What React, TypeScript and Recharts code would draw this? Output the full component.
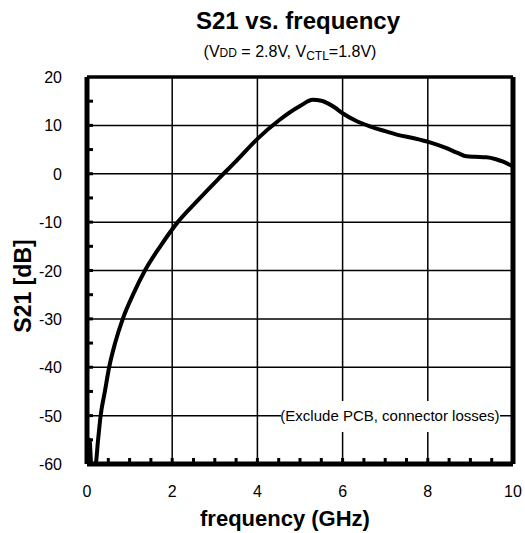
import React from 'react';
import { LineChart, Line, XAxis, YAxis, ReferenceLine } from 'recharts';

const freqGHz = [0.02, 0.06, 0.1, 0.2, 0.26, 0.32, 0.42, 0.52, 0.66, 0.84, 1.08, 1.36, 1.72, 2.13, 2.6, 3.07, 3.5, 4.0, 4.5, 5.0, 5.3, 5.5, 5.8, 6.0, 6.3, 6.64, 7.0, 7.27, 7.7, 8.05, 8.44, 8.7, 8.91, 9.1, 9.38, 9.6, 9.77, 10.0];
const s21dB = [-60, -55, -60, -60, -55, -50, -45, -40, -35, -30, -25, -20, -15, -10, -5.5, -1.2, 2.6, 7.2, 11.0, 14.0, 15.3, 15.1, 13.8, 12.5, 11.0, 9.8, 8.8, 8.1, 7.3, 6.5, 5.3, 4.3, 3.6, 3.5, 3.4, 3.0, 2.5, 1.5];

const xTicks = [0, 0.5, 1, 1.5, 2, 2.5, 3, 3.5, 4, 4.5, 5, 5.5, 6, 6.5, 7, 7.5, 8, 8.5, 9, 9.5, 10];
const yTicks = [-60, -55, -50, -45, -40, -35, -30, -25, -20, -15, -10, -5, 0, 5, 10, 15, 20];
const xMajor = [0, 2, 4, 6, 8, 10];
const yMajor = [-60, -50, -40, -30, -20, -10, 0, 10, 20];

const data = freqGHz.map((f, i) => ({ f, s21: s21dB[i] }));

const FONT = '"Liberation Sans", Arial, sans-serif';

const XTick = (props: any) => {
  const { x, y, payload } = props;
  const v = payload.value;
  return (
    <g>
      {v > 0 && v < 10 && <line x1={x} y1={y} x2={x} y2={y - 6} stroke="#000" strokeWidth={3} />}
      {xMajor.includes(v) && (
        <text x={x} y={y + 33} textAnchor="middle" fontFamily={FONT} fontSize={16} fill="#000">
          {v}
        </text>
      )}
    </g>
  );
};

const YTick = (props: any) => {
  const { x, y, payload } = props;
  const v = payload.value;
  return (
    <g>
      {v > -60 && v < 20 && <line x1={x} y1={y} x2={x + 6} y2={y} stroke="#000" strokeWidth={3} />}
      {yMajor.includes(v) && (
        <text x={x - 25} y={y + 6} textAnchor="end" fontFamily={FONT} fontSize={16} fill="#000">
          {v}
        </text>
      )}
    </g>
  );
};

export default function App() {
  return (
    <div style={{ position: 'absolute', left: 0, top: 0, width: 525, height: 533, background: '#fff', fontFamily: FONT }}>
      <LineChart width={525} height={533} data={data} margin={{ top: 77, right: 12, bottom: 0, left: 0 }}>
        {xMajor.slice(1, -1).map((v) => (
          <ReferenceLine key={'gx' + v} x={v} stroke="#000" strokeWidth={1.5} ifOverflow="visible" />
        ))}
        {yMajor.slice(1, -1).map((v) => (
          <ReferenceLine key={'gy' + v} y={v} stroke="#000" strokeWidth={1.5} ifOverflow="visible" />
        ))}
        <XAxis
          dataKey="f"
          type="number"
          domain={[0, 10]}
          ticks={xTicks}
          interval={0}
          height={69}
          tickSize={0}
          tickMargin={0}
          tickLine={false}
          axisLine={{ stroke: '#000', strokeWidth: 5 }}
          tick={<XTick />}
        />
        <YAxis
          type="number"
          domain={[-60, 20]}
          ticks={yTicks}
          interval={0}
          width={87}
          tickSize={0}
          tickMargin={0}
          tickLine={false}
          axisLine={{ stroke: '#000', strokeWidth: 5 }}
          tick={<YTick />}
        />
        <Line
          type="monotone"
          dataKey="s21"
          stroke="#000"
          strokeWidth={4}
          dot={false}
          isAnimationActive={false}
        />
        <ReferenceLine x={10} stroke="#000" strokeWidth={5} ifOverflow="visible" />
        <ReferenceLine y={20} stroke="#000" strokeWidth={3.5} ifOverflow="visible" />
      </LineChart>
      <svg width={525} height={533} style={{ position: 'absolute', left: 0, top: 0, pointerEvents: 'none' }}>
        <text x={298} y={29} textAnchor="middle" fontFamily={FONT} fontWeight="bold" fontSize={24} fill="#000">
          S21 vs. frequency
        </text>
        <text x={290} y={57} textAnchor="middle" fontFamily={FONT} fontSize={16} fill="#000">
          (V<tspan fontSize={12}>DD</tspan> = 2.8V, V<tspan fontSize={12} dy={3}>CTL</tspan><tspan dy={-3}>=1.8V)</tspan>
        </text>
        <text x={0} y={0} transform="translate(31,286) rotate(-90)" textAnchor="middle" fontFamily={FONT} fontWeight="bold" fontSize={23} fill="#000">
          S21 [dB]
        </text>
        <text x={285} y={526} textAnchor="middle" fontFamily={FONT} fontWeight="bold" fontSize={22} fill="#000">
          frequency (GHz)
        </text>
        <rect x={281} y={401} width={219} height={31} fill="#fff" />
        <text x={390} y={421} textAnchor="middle" fontFamily={FONT} fontSize={15} fill="#000">
          (Exclude PCB, connector losses)
        </text>
      </svg>
    </div>
  );
}
